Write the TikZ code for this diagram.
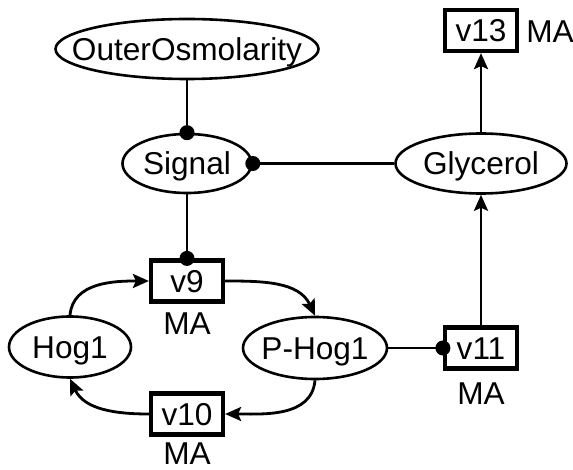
\documentclass[tikz,border=0pt]{standalone}
\usepackage{fontspec}
\setmainfont{Liberation Sans}
\usetikzlibrary{shapes.geometric,arrows.meta}
% zero-width text box, so the ellipse size comes from its minimum size only
\newcommand{\ctext}[1]{\makebox[0pt]{#1}}

\begin{document}
\begin{tikzpicture}[x=1pt,y=1pt,
  every node/.style={font=\fontsize{31.6}{36}\selectfont, inner sep=0pt,
    text height=22.6pt, text depth=0pt},
  species/.style={ellipse, draw, line width=2.6pt},
  reaction/.style={rectangle, draw, line width=4.2pt,
    minimum width=72pt, minimum height=41pt},
  link/.style={line width=2.8pt},
  modifier/.style={link, -{Circle[length=15pt]}, shorten >=-7.5pt},
  flow/.style={link, -{Stealth[length=16pt,width=14pt,inset=3pt]}},
]
\useasboundingbox (0,0) rectangle (573,-470);

% species
\node[species, minimum width=263pt, minimum height=60pt] (osm)  at (187,-49)    {\ctext{OuterOsmolarity}};
\node[species, minimum width=129pt, minimum height=59pt] (sig)  at (187,-163.5) {\ctext{Signal}};
\node[species, minimum width=171pt, minimum height=60pt] (gly)  at (481,-163.5) {\ctext{Glycerol}};
\node[species, minimum width=122pt, minimum height=61pt] (hog)  at (70,-347)    {\ctext{Hog1}};
\node[species, minimum width=144pt, minimum height=62pt] (phog) at (315,-348)   {\ctext{P-Hog1}};

% reactions
\node[reaction] (v9)  at (187,-281)   {v9};
\node[reaction] (v10) at (187,-414)   {v10};
\node[reaction] (v11) at (481,-348)   {v11};
\node[reaction] (v13) at (481,-30.5)  {v13};

% kinetic law labels
\node (ma9)  at (187,-323)   {MA};
\node (ma10) at (187,-453)   {MA};
\node (ma11) at (481,-393)   {MA};
\node (ma13) at (550,-31)    {MA};

% modifiers
\draw[modifier] (osm) -- (sig.north);
\draw[modifier] (gly) -- (sig.east);
\draw[modifier] (sig) -- (v9.north);
\draw[modifier] (phog) -- (v11.west);

% reactions in and out
\draw[flow] (gly) -- (v13);
\draw[flow] (v11) -- (gly);

% phosphorylation cycle
\draw[flow] (hog.north) to[out=85,in=180] (v9.west);
\draw[flow] (v9.east) to[out=0,in=115] (phog.north);
\draw[flow] (phog.south) to[out=-95,in=0] (v10.east);
\draw[flow] (v10.west) to[out=180,in=-65] (hog.south);
\end{tikzpicture}
\end{document}
